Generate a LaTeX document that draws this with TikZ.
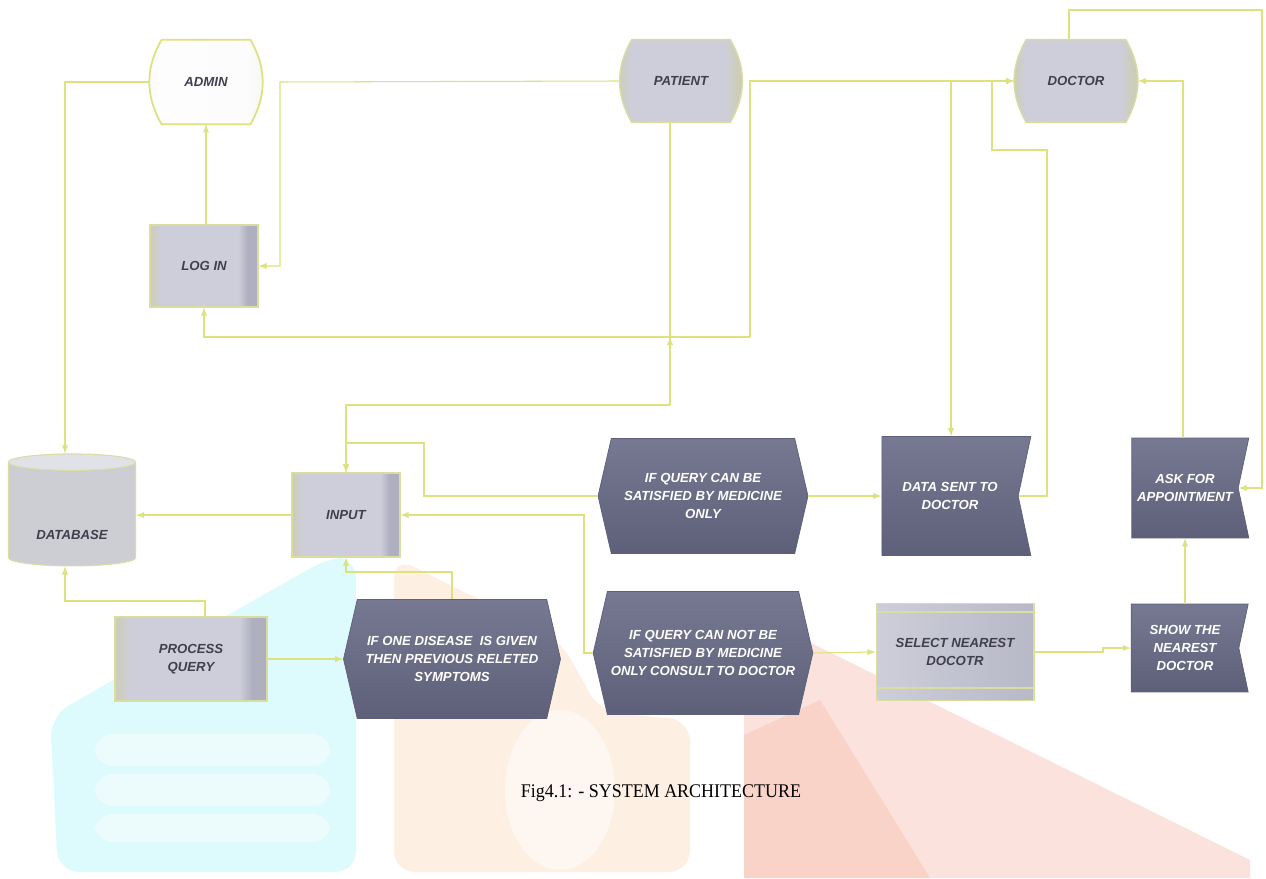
\documentclass[tikz,border=0pt]{standalone}
\usepackage{fontspec}
\setmainfont{Liberation Serif}
\setsansfont{Liberation Sans}
\usetikzlibrary{shapes.geometric,shapes.symbols,backgrounds}

\definecolor{jaunetrait}{HTML}{DCE27E}
\definecolor{bordjaune}{HTML}{D9DDA2}
\definecolor{sombre}{HTML}{6C6E88}
\definecolor{sombrehaut}{HTML}{777993}
\definecolor{sombrebas}{HTML}{5E6079}
\definecolor{grisbande}{HTML}{CDCDB6}
\definecolor{grismilieu}{HTML}{CDCED9}
\definecolor{grisdroite}{HTML}{AFAFC0}
\definecolor{textefonce}{HTML}{3F3F4E}
\definecolor{cyanwm}{HTML}{DDFBFC}
\definecolor{orangewm}{HTML}{FDEFE1}
\definecolor{rosewm}{HTML}{FBE2DC}
\definecolor{rougewm}{HTML}{F9D2C8}

\pgfdeclarehorizontalshading{bandes}{100bp}{color(0bp)=(grisbande); color(25bp)=(grisbande); color(30bp)=(grismilieu); color(66bp)=(grismilieu); color(70bp)=(grisdroite); color(75bp)=(grisdroite); color(100bp)=(grisdroite)}
\pgfdeclarehorizontalshading{bandestonneau}{100bp}{color(0bp)=(grisbande); color(25bp)=(grisbande); color(31bp)=(grismilieu); color(67bp)=(grismilieu); color(72bp)=(grisbande); color(100bp)=(grisbande)}
\pgfdeclarehorizontalshading{bandesadmin}{100bp}{color(0bp)=(white!90!grisbande); color(25bp)=(white!90!grisbande); color(31bp)=(white!96!grismilieu); color(67bp)=(white!94!grismilieu); color(72bp)=(white!85!grisbande); color(100bp)=(white!85!grisbande)}

% contour en tonneau derriere un noeud
\newcommand{\tonneau}[2][]{\begin{scope}[on background layer]
	\path[tonneaufond, #1] ([xshift=0.24cm]#2.north west) to[bend right=30] ([xshift=0.24cm]#2.south west) -- ([xshift=-0.24cm]#2.south east) to[bend right=30] ([xshift=-0.24cm]#2.north east) -- cycle;
	\end{scope}}

\begin{document}
\begin{tikzpicture}[x=0.02cm, y=-0.02cm]
	\tikzset{base/.style={font=\sffamily\bfseries\itshape\fontsize{7.5}{10}\selectfont, align=center, inner sep=2pt},
		terminal/.style={base, rectangle, text=textefonce},
		tonneaufond/.style={draw=bordjaune, line width=0.8pt, shading=bandestonneau},
		boite/.style={base, rectangle, draw=bordjaune, line width=0.6pt, shading=bandes, text=textefonce},
		hexa/.style={base, signal, signal to=east and west, signal pointer angle=154, top color=sombrehaut, bottom color=sombrebas, draw=sombrebas, text=white},
		fanion/.style={base, signal, signal to=nowhere, signal from=east, signal pointer angle=156, top color=sombrehaut, bottom color=sombrebas, draw=sombrebas, text=white},
		fleche/.style={>=latex, ->, draw=jaunetrait, line width=0.6pt},
		ligne/.style={draw=jaunetrait, line width=0.6pt},
		legende/.style={font=\rmfamily\fontsize{11}{13}\selectfont, xscale=0.93}};

	\useasboundingbox (0,0) rectangle (1266,878);
	\begin{scope}[on background layer]
		\fill[white] (0,0) rectangle (1266,878);
	\end{scope}

	% filigrane
	\fill[cyanwm, rounded corners=12] (330,557) -- (356,557) -- (356,872) -- (58,872) -- (50,716) -- cycle;
	\fill[white, opacity=0.45, rounded corners=10] (95,734) rectangle (330,766);
	\fill[white, opacity=0.45, rounded corners=10] (95,774) rectangle (330,806);
	\fill[white, opacity=0.45, rounded corners=10] (95,814) rectangle (330,842);
	\fill[orangewm, rounded corners=12] (394,557) -- (560,640) -- (600,712) -- (690,720) -- (690,872) -- (394,872) -- cycle;
	\fill[white, opacity=0.55] (560,790) ellipse (55 and 80);
	\fill[rosewm] (744,700) -- (805,640) -- (1250,860) -- (1250,878) -- (744,878) -- cycle;
	\fill[rougewm] (744,735) -- (820,700) -- (930,878) -- (744,878) -- cycle;

	% noeuds du haut
	\node[terminal, minimum width=2.24cm, minimum height=1.68cm] (admin) at (206,82) {ADMIN};
	\node[terminal, minimum width=2.44cm, minimum height=1.64cm] (patient) at (681,81) {PATIENT};
	\node[terminal, minimum width=2.46cm, minimum height=1.64cm] (doctor) at (1076,81) {DOCTOR};
	\tonneau[shading=bandesadmin, draw=jaunetrait, line width=1pt]{admin}
	\tonneau{patient}
	\tonneau{doctor}
	\node[boite, minimum width=2.16cm, minimum height=1.64cm] (login) at (204,266) {LOG IN};

	% noeuds du bas
	\node[cylinder, shape border rotate=90, aspect=1.4, draw=bordjaune, line width=0.6pt, cylinder uses custom fill, cylinder body fill=grismilieu!85!grisbande, cylinder end fill=grismilieu!60!white, minimum width=2.54cm, minimum height=2.24cm] (db) at (72,516) {};
	\node[base, text=textefonce] (dbtexte) at (72,535) {DATABASE};
	\node[boite, minimum width=2.16cm, minimum height=1.68cm] (input) at (346,515) {INPUT};
	\node[boite, minimum width=3.04cm, minimum height=1.68cm] (pq) at (191,659) {PROCESS\\QUERY};
	\node[hexa, minimum width=4.34cm, minimum height=2.38cm] (onedis) at (452,659) {IF ONE DISEASE \ IS GIVEN\\THEN PREVIOUS RELETED\\SYMPTOMS};
	\node[hexa, minimum width=4.2cm, minimum height=2.3cm] (canbe) at (703,496) {IF QUERY CAN BE\\SATISFIED BY MEDICINE\\ONLY};
	\node[hexa, minimum width=4.2cm, minimum height=2.46cm] (cannot) at (703,653) {IF QUERY CAN NOT BE\\SATISFIED BY MEDICINE\\ONLY CONSULT TO DOCTOR};
	\node[fanion, minimum width=2.98cm, minimum height=2.38cm] (datasent) at (950,496) {DATA SENT TO\\DOCTOR};
	\node[boite, minimum width=3.16cm, minimum height=1.94cm, shading=axis, left color=grismilieu, right color=grisdroite!70!grismilieu] (select) at (955,652) {SELECT NEAREST\\DOCOTR};
	\draw[bordjaune, line width=1.5pt] ([yshift=-0.18cm]select.north west) -- ([yshift=-0.18cm]select.north east);
	\draw[bordjaune, line width=1.5pt] ([yshift=0.26cm]select.south west) -- ([yshift=0.26cm]select.south east);
	\node[fanion, minimum width=2.34cm, minimum height=2cm] (ask) at (1185,488) {ASK FOR\\APPOINTMENT};
	\node[fanion, minimum width=2.34cm, minimum height=1.76cm] (show) at (1185,648) {SHOW THE\\NEAREST\\DOCTOR};

	\node[legende] (titre) at (661,793) {Fig4.1: - SYSTEM ARCHITECTURE};

	% points de passage
	\coordinate (a1) at (65,82);
	\coordinate (p1) at (280,82);
	\coordinate (q1) at (750,337);
	\coordinate (q2) at (951,81);
	\coordinate (r1) at (670,405);
	\coordinate (s1) at (424,443);
	\coordinate (t1) at (1047,150);
	\coordinate (t2) at (992,150);
	\coordinate (u1) at (1183,81);
	\coordinate (v1) at (1069,10);
	\coordinate (v2) at (1262,10);
	\coordinate (w1) at (1103,650);
	\coordinate (x1) at (584,515);
	\coordinate (y1) at (451,572);
	\coordinate (z0) at (205,601);

	% liaisons
	\draw[fleche] (admin.west) -- (a1) -- (a1 |- db.north);
	\draw[fleche] (login.north -| admin.south) -- (admin.south);
	\draw[fleche] (patient.west) -- (p1) |- (login.east);
	\draw[fleche] (q1) -| (login.south);
	\draw[fleche] (q1) |- (doctor.west);
	\draw[fleche] (q2) -- (q2 |- datasent.north);
	\draw[ligne] (patient.south -| r1) -- (r1);
	\draw[fleche] (r1) -- (r1 |- q1);
	\draw[fleche] (r1) -| (input.north);
	\draw[fleche] (canbe.west) -| (s1) -| (input.north);
	\draw[fleche] (canbe.east) -- (datasent.west);
	\draw[fleche] (datasent.east) -| (t1) -- (t2) |- (doctor.west);
	\draw[fleche] (ask.north -| u1) -- (u1) -- (doctor.east);
	\draw[fleche] (doctor.north -| v1) -- (v1) -- (v2) |- (ask.east);
	\draw[fleche] (show.north) -- (ask.south);
	\draw[fleche] (select.east) -- (w1 |- select.east) |- (show.west);
	\draw[fleche] (cannot.east) -- (select.west);
	\draw[fleche] (cannot.west) -| (x1) -- (input.east);
	\draw[fleche] (onedis.north) -- (onedis.north |- y1) -| (input.south);
	\draw[fleche] (pq.east) -- (onedis.west);
	\draw[fleche] (input.west) -- (input.west -| db.east);
	\draw[fleche] (z0 |- pq.north) -- (z0) -| (a1 |- db.south);

\end{tikzpicture}
\end{document}
